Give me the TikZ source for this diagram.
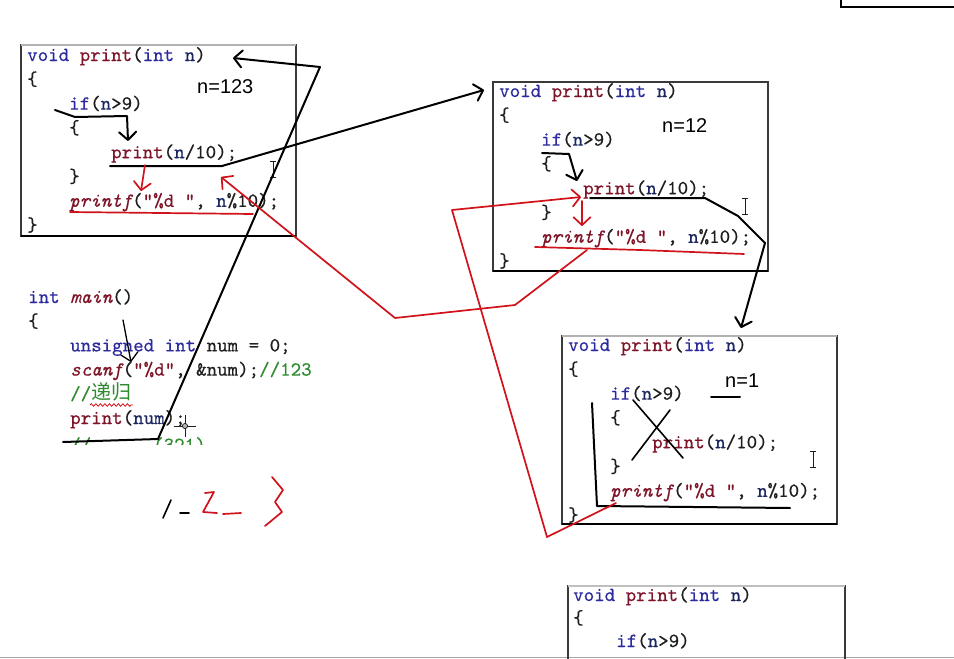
\documentclass[tikz,border=0pt]{standalone}
\usepackage{fontspec}
\usepackage{xcolor}
\usetikzlibrary{arrows.meta,decorations.pathmorphing}
\newfontfamily\cjk{Noto Sans CJK SC}
\newfontfamily\labelfont{Liberation Sans}
\newfontfamily\codett{lmmono10-regular.otf}[ItalicFont=lmmono10-italic.otf,RawFeature={embolden=0.5}]
\definecolor{ink}{HTML}{1E1E1E}
\definecolor{kwblue}{HTML}{2B2B9E}
\definecolor{fnred}{HTML}{7E1428}
\definecolor{varblue}{HTML}{1C2760}
\definecolor{cmtgreen}{HTML}{2E8B2E}
\definecolor{penred}{HTML}{D0121B}
\definecolor{framegray}{HTML}{3A3A3A}
\newcommand{\codefont}{\codett\fontsize{20}{24}\selectfont}
\newcommand{\kwd}[1]{\textcolor{kwblue}{#1}}
\newcommand{\fnc}[1]{\textcolor{fnred}{#1}}
\newcommand{\fnci}[1]{\textcolor{fnred}{\itshape #1}}
\newcommand{\vari}[1]{\textcolor{varblue}{#1}}
\newcommand{\cmnt}[1]{\textcolor{cmtgreen}{#1}}
% one copy of the recursive function, lines 24.3 apart
\newcommand{\printbody}[1]{%
  \node[codeline] (#1-head)  at (0,0)      {\kwd{void} \fnc{print}(\kwd{int} \vari{n})};
  \node[codeline] (#1-open)  at (0,24.3)   {\{};
  \node[codeline] (#1-if)    at (42,48.6)  {\kwd{if}(\vari{n}>9)};
  \node[codeline] (#1-lb)    at (42,72.9)  {\{};
  \node[codeline] (#1-call)  at (84,97.2)  {\fnc{print}(\vari{n}/10);};
  \node[codeline] (#1-rb)    at (42,121.5) {\}};
  \node[codeline] (#1-out)   at (42,145.8) {\fnci{printf}(\fnc{"\%d "}, \vari{n}\%10);};
  \node[codeline] (#1-close) at (0,170.1)  {\}};
}
\tikzset{
  ibeam/.pic={\draw[ink,line width=0.9pt] (0,-8) -- (0,8) (-3,-8) -- (3,-8) (-3,8) -- (3,8);},
  crosshair/.pic={\draw[ink,line width=0.9pt] (-11,0) -- (11,0) (0,-11) -- (0,11);
                  \draw[ink,fill=gray!60,line width=0.7pt] (0,0) circle (2.6pt);}
}

\begin{document}
\begin{tikzpicture}[x=1pt,y=-1pt,
  codeline/.style={anchor=base west,inner sep=0pt,font=\codefont,text=ink},
  nlabel/.style={anchor=base west,inner sep=0pt,font=\labelfont\fontsize{20}{20}\selectfont},
  pen/.style={draw=black,line width=2pt,line cap=round,line join=round},
  redpen/.style={pen,draw=penred,line width=1.7pt},
  barb/.style={-{Straight Barb[length=8pt,width=17pt,round]}},
  frame/.style={draw=framegray,line width=1.1pt}]
  \useasboundingbox (0,0) rectangle (954,659);
  \clip (0,0) rectangle (954,659);

  % window chrome
  \draw[black,line width=1.2pt] (841,0) -- (841,7) -- (954,7);
  \draw[gray!70,line width=1pt] (0,657.5) -- (954,657.5);

  % the three frames of print()
  \draw[frame] (21,45) rectangle (296,236);
  \draw[gray!60,line width=1.1pt] (21,45) -- (296,45);
  \draw[black,line width=2pt] (21,236) -- (296,236);
  \begin{scope}[shift={(27,61)}] \printbody{b1} \end{scope}
  \node[nlabel] (n1) at (197,93) {n=123};

  \draw[frame] (493,82) rectangle (768,271);
  \draw[black,line width=2pt] (493,271) -- (768,271);
  \begin{scope}[shift={(499,97)}] \printbody{b2} \end{scope}
  \node[nlabel] (n2) at (662,132) {n=12};

  \draw[frame] (562,336) rectangle (837,524);
  \draw[gray!60,line width=1.1pt] (562,336) -- (837,336);
  \draw[black,line width=2pt] (562,524) -- (837,524);
  \begin{scope}[shift={(568,351)}] \printbody{b3} \end{scope}
  \node[nlabel] (n3) at (725,387) {n=1};

  % fourth frame, cut off by the window
  \draw[frame] (568,670) -- (568,586) -- (845,586) -- (845,670);
  \draw[gray!50,line width=1.1pt] (568,586) -- (845,586);
  \begin{scope}[shift={(573,601)}]
    \node[codeline] (b4-head) at (0,0)     {\kwd{void} \fnc{print}(\kwd{int} \vari{n})};
    \node[codeline] (b4-open) at (0,23)    {\{};
    \node[codeline] (b4-if)   at (43,46)   {\kwd{if}(\vari{n}>9)};
  \end{scope}

  % main
  \begin{scope}[shift={(28,303)}]
    \node[codeline] (m-head)  at (0,0)      {\kwd{int} \fnci{main}()};
    \node[codeline] (m-open)  at (0,24.2)   {\{};
    \node[codeline] (m-decl)  at (42,48.4)  {\kwd{unsigned} \kwd{int} num = 0;};
    \node[codeline] (m-scan)  at (42,72.6)  {\fnci{scanf}(\fnc{"\%d"}, \&num);\cmnt{//123}};
    \node[codeline] (m-cmt)   at (42,96.8)  {\cmnt{//{\cjk 递归}}};
    \node[codeline] (m-call)  at (42,121)   {\fnc{print}(\vari{num});};
  \end{scope}
  \begin{scope}
    \clip (0,300) rectangle (300,444);
    \node[codeline] (m-cut1) at (70,451) {\cmnt{//}};
    \node[codeline] (m-cut2) at (153,451) {\cmnt{(321)}};
  \end{scope}
  \draw[penred,line width=0.8pt,decorate,decoration={snake,amplitude=1.3pt,segment length=4.5pt}]
    (90,405) -- (133,405);

  % cursors
  \pic at (273,169) {ibeam};
  \pic at (745,206) {ibeam};
  \pic at (813,459) {ibeam};
  \pic at (185,426) {crosshair};

  % black strokes: the calls
  \coordinate (m-u0) at (63,442);  \coordinate (m-u1) at (158,439);
  \coordinate (peak) at (320,67);  \coordinate (b1-in) at (233,58);
  \draw[pen,barb] (m-u0) -- (m-u1) -- (peak) -- (b1-in);

  \coordinate (m-s0) at (123,320); \coordinate (m-s1) at (131,362);
  \draw[pen,line width=1.3pt,barb] (m-s0) -- (m-s1);

  \coordinate (b1-if0) at (55,110); \coordinate (b1-if1) at (75,117);
  \coordinate (b1-if2) at (127,116); \coordinate (b1-if3) at (128,141);
  \draw[pen,barb] (b1-if0) -- (b1-if1) -- (b1-if2) -- (b1-if3);

  \coordinate (b1-cl0) at (110,166); \coordinate (b1-cl1) at (222,166);
  \coordinate (b2-in) at (484,90);
  \draw[pen,barb] (b1-cl0) -- (b1-cl1) -- (b2-in);

  \coordinate (b2-if0) at (542,153); \coordinate (b2-if1) at (569,154);
  \coordinate (b2-if2) at (577,181);
  \draw[pen,barb] (b2-if0) -- (b2-if1) -- (b2-if2);

  \coordinate (b2-cl0) at (590,198); \coordinate (b2-cl1) at (705,198);
  \coordinate (b2-cl2) at (738,216); \coordinate (b2-cl3) at (765,243);
  \coordinate (b3-in) at (741,328);
  \draw[pen,barb] (b2-cl0) -- (b2-cl1) -- (b2-cl2) -- (b2-cl3) -- (b3-in);

  % black strokes: the last frame
  \coordinate (b3-n0) at (711,397); \coordinate (b3-n1) at (740,397);
  \draw[pen] (b3-n0) -- (b3-n1);
  \coordinate (b3-x0) at (633,400); \coordinate (b3-x1) at (683,458);
  \coordinate (b3-x2) at (670,410); \coordinate (b3-x3) at (632,460);
  \draw[pen,line width=1.6pt] (b3-x0) -- (b3-x1) (b3-x2) -- (b3-x3);
  \coordinate (b3-L0) at (592,403); \coordinate (b3-L1) at (597,506);
  \coordinate (b3-L2) at (790,508);
  \draw[pen] (b3-L0) -- (b3-L1) -- (b3-L2);

  % red strokes: the returns
  \coordinate (b1-dn0) at (145,165); \coordinate (b1-dn1) at (141,191);
  \draw[redpen,barb] (b1-dn0) -- (b1-dn1);
  \coordinate (b1-ul0) at (70,212); \coordinate (b1-ul1) at (253,214);
  \draw[redpen] (b1-ul0) -- (b1-ul1);

  \coordinate (b2-out) at (587,250); \coordinate (r-a) at (515,305);
  \coordinate (r-b) at (395,318);    \coordinate (b1-back) at (221,177);
  \draw[redpen,barb] (b2-out) -- (r-a) -- (r-b) -- (b1-back);

  \coordinate (b3-out) at (616,503); \coordinate (r-c) at (547,537);
  \coordinate (r-d) at (452,210);    \coordinate (b2-back) at (581,197);
  \draw[redpen,barb] (b3-out) -- (r-c) -- (r-d) -- (b2-back);

  \coordinate (b2-dn0) at (582,201); \coordinate (b2-dn1) at (582,226);
  \draw[redpen,barb] (b2-dn0) -- (b2-dn1);
  \coordinate (b2-ul0) at (535,247); \coordinate (b2-ul1) at (640,250);
  \coordinate (b2-ul2) at (744,254);
  \draw[redpen] (b2-ul0) -- (b2-ul1) -- (b2-ul2);

  % handwritten 1-2-3
  \draw[pen,line width=1.6pt] (171,500) -- (163,518) (180,513) -- (189,513);
  \draw[redpen] (205,493) -- (214,492) -- (203,512) -- (217,513) (223,514) -- (241,513);
  \draw[redpen] (272,477) -- (283,490) -- (275,502) -- (282,512) -- (265,526);
\end{tikzpicture}
\end{document}
